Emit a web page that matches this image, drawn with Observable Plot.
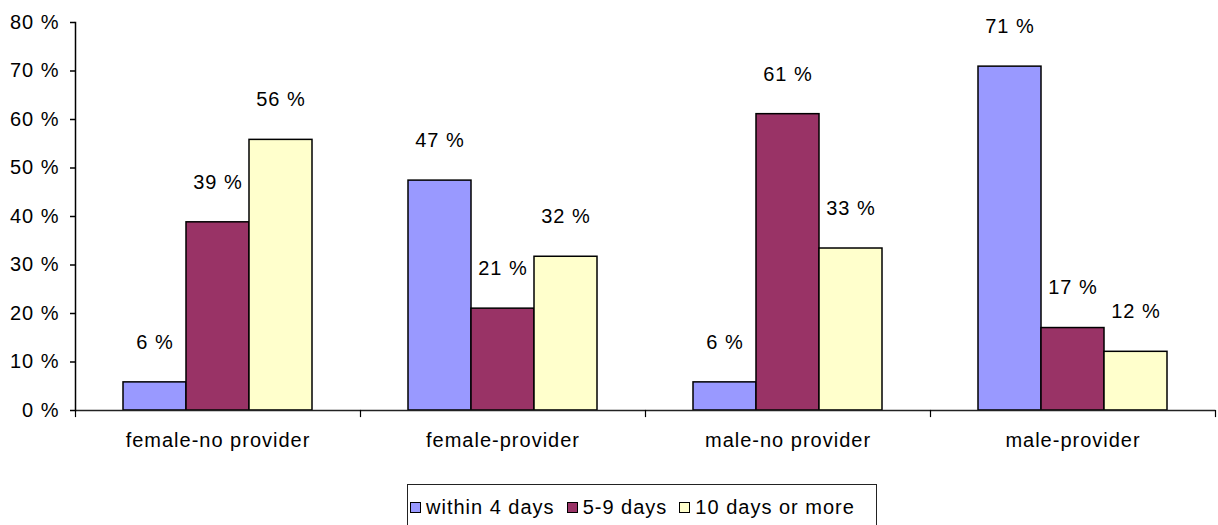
<!DOCTYPE html>
<html>
<head>
<meta charset="utf-8">
<script src="https://cdn.jsdelivr.net/npm/d3@7"></script>
<script src="https://cdn.jsdelivr.net/npm/@observablehq/plot@0.6"></script>
<style>
  body { margin: 0; background: #fff; position: relative; width: 1218px; height: 525px; overflow: hidden; }
  #legend {
    position: absolute; left: 407px; top: 484px; width: 470px; height: 50px;
    border: 1px solid #222; box-sizing: border-box; display: flex; align-items: flex-start;
    padding: 10px 0 0 2px;
    font-family: "Liberation Sans", Arial, sans-serif; font-size: 20px; letter-spacing: 1px; color: #000;
  }
  #legend .item { display: flex; align-items: center; margin-right: 12px; line-height: 24px; }
  #legend .swatch { width: 9px; height: 9px; border: 1px solid #000; margin-right: 5px; }
</style>
</head>
<body>
<div id="chart"></div>
<div id="legend"></div>
<script>
// Respondent groups along the horizontal axis
const groups = ["female-no provider", "female-provider", "male-no provider", "male-provider"];

// Response-time series (share of respondents, %)
const seriesNames = ["within 4 days", "5-9 days", "10 days or more"];
const within4Days = [5.8, 47.4, 5.8, 70.9];
const days5to9 = [38.8, 21.0, 61.1, 17.0];
const days10OrMore = [55.8, 31.7, 33.4, 12.1];

// Vertical axis ticks
const yTicks = [0, 10, 20, 30, 40, 50, 60, 70, 80];

const seriesColors = ["#9999ff", "#993366", "#ffffcc"];

const seriesValues = [within4Days, days5to9, days10OrMore];
const rows = groups.flatMap((group, i) =>
  seriesNames.map((series, j) => ({group, series, value: seriesValues[j][i]}))
);

const W = 1218, H = 470, MT = 22, MB = 60, ML = 75, MR = 3;
const plotHeight = H - MT - MB;

const chart = Plot.plot({
  width: W,
  height: H,
  marginTop: MT,
  marginBottom: MB,
  marginLeft: ML,
  marginRight: MR,
  style: "font-family: 'Liberation Sans', Arial, sans-serif; font-size: 20px; letter-spacing: 1px; color: #000; background: #fff;",
  fx: {domain: groups, padding: 0, label: null},
  x: {domain: seriesNames, paddingInner: 0, paddingOuter: 0.73, axis: null},
  y: {domain: [0, 80], label: null},
  color: {domain: seriesNames, range: seriesColors},
  marks: [
    Plot.barY(rows, {fx: "group", x: "series", y: "value", fill: "series", stroke: "#000", strokeWidth: 1.5, inset: 0}),
    Plot.text(rows, {fx: "group", x: "series", y: "value", text: d => `${Math.round(d.value)} %`, dy: -40, fill: "#000"}),
    Plot.ruleY([0], {stroke: "#222", strokeWidth: 1.5}),
    // left axis line
    Plot.frame({anchor: "left", facetAnchor: "left", stroke: "#000", strokeWidth: 1.5}),
    // category boundary ticks below the baseline
    Plot.frame({anchor: "left", insetTop: plotHeight, insetBottom: -6, stroke: "#000", strokeWidth: 1.2}),
    Plot.frame({anchor: "right", facetAnchor: "right", insetTop: plotHeight, insetBottom: -6, stroke: "#000", strokeWidth: 1.2}),
    Plot.axisY({ticks: yTicks, tickFormat: d => `${d} %`, tickSize: 5, tickPadding: 11, label: null, stroke: "#000", strokeWidth: 1.5}),
    Plot.axisFx({anchor: "bottom", tickSize: 0, tickPadding: 22, label: null})
  ]
});
document.getElementById("chart").appendChild(chart);

// Legend below the chart
const legend = document.getElementById("legend");
seriesNames.forEach((name, i) => {
  const item = document.createElement("div");
  item.className = "item";
  const sw = document.createElement("span");
  sw.className = "swatch";
  sw.style.background = seriesColors[i];
  const label = document.createElement("span");
  label.textContent = name;
  item.append(sw, label);
  legend.appendChild(item);
});
</script>
</body>
</html>
